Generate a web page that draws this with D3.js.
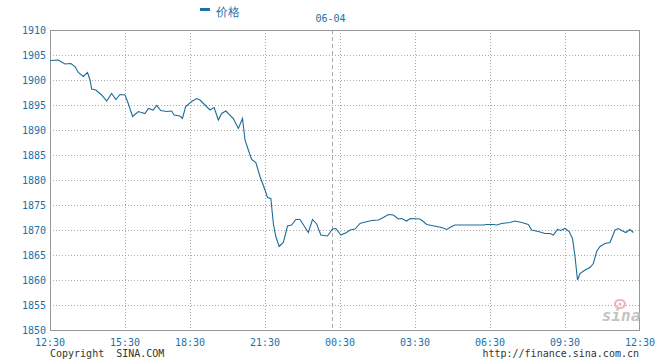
<!DOCTYPE html>
<html><head><meta charset="utf-8">
<script src="https://cdn.jsdelivr.net/npm/d3@7"></script>
<style>
html,body{margin:0;padding:0;background:#fff;}
svg{display:block;}
text{font-family:"DejaVu Sans Mono",monospace;}
</style></head>
<body>
<svg id="c" width="660" height="360"></svg>
<script>
const seriesName = "价格";
const dateLabel = "06-04";
const dateMarkerTime = "00:10";
const xTickLabels = ["12:30","15:30","18:30","21:30","00:30","03:30","06:30","09:30","12:30"];
const yTicks = [1850,1855,1860,1865,1870,1875,1880,1885,1890,1895,1900,1905,1910];
const times = ["12:30","12:50","13:06","13:20","13:30","13:38","13:50","14:00","14:06","14:10","14:20","14:34","14:46","14:58","15:08","15:18","15:30",
"15:39","15:51","16:07","16:25","16:35","16:48","16:58","17:09","17:26","17:39","17:46","18:02","18:09","18:18",
"18:34","18:46","18:54","19:06","19:18","19:28","19:38","19:46","19:56","20:14","20:26","20:36","20:42","20:50","20:58","21:08","21:18","21:30",
"21:36","21:44","21:50","21:56","22:04","22:14","22:24","22:34","22:44","22:54","23:14","23:24","23:34","23:44","00:00","00:12","00:20","00:32",
"00:46","00:54","01:06","01:18","01:26","01:46","02:02","02:14","02:26","02:38","02:50","02:58","03:10","03:18","03:42","03:50","03:58",
"04:22","04:34","04:46","04:58","05:06","06:14","06:22","06:38","06:46","06:58","07:18","07:30","07:46","08:02","08:10","08:26","08:42",
"08:54","09:02","09:12","09:20","09:30","09:40","09:48","09:54","10:00","10:06","10:18","10:30","10:38","10:46","10:54","11:06","11:18",
"11:30","11:38","11:46","11:56","12:06","12:14"];
const prices = [1903.9,1904.0,1903.2,1903.3,1902.7,1901.5,1900.7,1901.5,1900.0,1898.2,1898.0,1897.0,1895.8,1897.3,1896.1,1897.1,1897.0,
1895.3,1892.7,1893.7,1893.3,1894.3,1894.0,1894.9,1893.9,1893.7,1893.8,1893.0,1892.8,1892.3,1894.7,
1895.7,1896.3,1896.0,1895.0,1894.0,1894.5,1892.0,1893.3,1893.8,1892.3,1890.3,1892.3,1888.0,1886.0,1884.1,1883.5,1880.7,1878.0,
1876.5,1876.3,1871.3,1868.7,1866.7,1867.5,1870.8,1871.0,1872.1,1872.1,1869.5,1872.1,1871.2,1869.0,1868.8,1870.2,1870.3,1869.0,
1869.5,1870.0,1870.2,1871.3,1871.5,1871.9,1872.0,1872.5,1873.1,1873.0,1872.2,1872.3,1871.8,1872.3,1872.2,1871.7,1871.1,
1870.7,1870.5,1870.1,1870.7,1871.0,1871.0,1871.1,1871.1,1871.0,1871.3,1871.5,1871.8,1871.5,1871.1,1870.0,1869.7,1869.3,
1869.3,1869.0,1870.1,1869.9,1870.3,1869.7,1868.3,1864.7,1860.0,1861.3,1862.0,1862.5,1863.3,1865.7,1866.7,1867.3,1867.5,
1870.0,1870.3,1869.9,1869.5,1870.1,1869.5];

function toMin(t){const [h,m]=t.split(":").map(Number);let v=h*60+m-750;if(v<0)v+=1440;return v;}
const data = times.map((t,i)=>({m:toMin(t),v:prices[i]}));
const tickMins = xTickLabels.map((t,i)=> i===xTickLabels.length-1 ? 1440 : toMin(t));

const L=50,R=640,T=30,B=330;
const x = d3.scaleLinear().domain(tickMins).range([50,125,190,265,340,415,490,565,640]);
const y = d3.scaleLinear().domain([1850,1910]).range([B,T]);

const svg = d3.select("#c");
const blue = "#1a72a8";

const g = svg.append("g");
g.selectAll("line.h").data(yTicks.slice(1,-1)).join("line")
 .attr("x1",L).attr("x2",R).attr("y1",d=>Math.round(y(d))+0.5).attr("y2",d=>Math.round(y(d))+0.5)
 .attr("stroke","#aaa").attr("stroke-dasharray","1,2");
g.selectAll("line.v").data(tickMins.slice(1,-1)).join("line")
 .attr("x1",d=>Math.round(x(d))+0.5).attr("x2",d=>Math.round(x(d))+0.5).attr("y1",T).attr("y2",B)
 .attr("stroke","#aaa").attr("stroke-dasharray","1,2");
const dm = Math.round(x(toMin(dateMarkerTime)))+0.5;
g.append("line").attr("x1",dm).attr("x2",dm).attr("y1",T).attr("y2",B)
 .attr("stroke","#aaa").attr("stroke-dasharray","4,3");
svg.append("text").attr("x",dm-2).attr("y",22).attr("text-anchor","middle")
 .attr("font-size",10).attr("fill",blue).text(dateLabel);

svg.append("rect").attr("x",L+0.5).attr("y",T+0.5).attr("width",R-L-1).attr("height",B-T)
 .attr("fill","none").attr("stroke","#999");

svg.selectAll("text.y").data(yTicks).join("text").attr("class","y")
 .attr("x",46).attr("y",d=>y(d)).attr("dy","0.35em").attr("text-anchor","end")
 .attr("font-size",10).attr("fill",blue).text(d=>d);
svg.selectAll("text.x").data(xTickLabels).join("text").attr("class","x")
 .attr("x",(d,i)=>x(tickMins[i])).attr("y",342).attr("dy","0.35em").attr("text-anchor","middle")
 .attr("font-size",10).attr("fill",blue).text(d=>d);

svg.append("text").attr("x",50).attr("y",353).attr("dy","0.35em").attr("font-size",10)
 .attr("fill","#333").attr("xml:space","preserve").text("Copyright  SINA.COM");
svg.append("text").attr("x",639).attr("y",353).attr("dy","0.35em").attr("font-size",10)
 .attr("text-anchor","end").attr("fill","#333").text("http://finance.sina.com.cn");

// logo
svg.append("ellipse").attr("cx",620).attr("cy",304).attr("rx",5).attr("ry",4).attr("fill","none").attr("stroke","#f3b3bd").attr("stroke-width",2.2);
svg.append("circle").attr("cx",620).attr("cy",304).attr("r",1.5).attr("fill","#f3b3bd");
svg.append("text").attr("x",621).attr("y",321).attr("text-anchor","middle")
 .attr("font-family","Liberation Sans, Arial, sans-serif").attr("font-style","italic").attr("font-weight","bold")
 .attr("font-size",16).attr("fill","#c4c4c4").text("sina");

svg.append("rect").attr("x",200).attr("y",8).attr("width",10).attr("height",3).attr("fill",blue);
svg.append("text").attr("x",216).attr("y",12).attr("dy","0.35em").attr("font-family","Noto Sans CJK SC, sans-serif")
 .attr("font-size",12).attr("fill",blue).text(seriesName);

const line = d3.line().x(d=>x(d.m)).y(d=>y(d.v));
svg.append("path").datum(data).attr("d",line).attr("fill","none")
 .attr("stroke","#1d6c98").attr("stroke-width",1.1);
</script>
</body></html>
